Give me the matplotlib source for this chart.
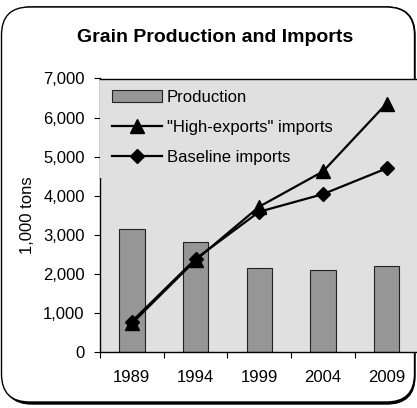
import matplotlib.pyplot as plt
from matplotlib.patches import FancyBboxPatch
from matplotlib.ticker import FuncFormatter, FixedLocator

plt.rcParams['font.family'] = ['Liberation Sans', 'DejaVu Sans']

years = ['1989', '1994', '1999', '2004', '2009']
production = [3140, 2810, 2150, 2090, 2190]
high_exports = [730, 2350, 3720, 4620, 6360]
baseline = [780, 2380, 3590, 4040, 4700]

W, H = 417, 408
fig = plt.figure(figsize=(W / 100, H / 100), dpi=100)

# Rounded chart frame with a small drop shadow (inch coordinates)
px = 1 / 100
shadow = FancyBboxPatch((4 * px, 4 * px), (W - 6) * px, (H - 11) * px,
                        boxstyle="round,pad=0,rounding_size=0.28",
                        transform=fig.dpi_scale_trans, facecolor='black',
                        edgecolor='black', lw=1, zorder=-2)
frame = FancyBboxPatch((1.5 * px, 6 * px), (W - 4) * px, (H - 13) * px,
                       boxstyle="round,pad=0,rounding_size=0.28",
                       transform=fig.dpi_scale_trans, facecolor='white',
                       edgecolor='black', lw=1, zorder=-1)
fig.patches.extend([shadow, frame])

ax = fig.add_axes([100 / W, 56 / H, 318.5 / W, 273.5 / H])
ax.set_facecolor('#e0e0e0')

x = range(len(years))
bars = ax.bar(x, production, width=0.4, color='#969696', edgecolor='#222222',
              lw=0.8, label='Production', zorder=2)
l_high, = ax.plot(x, high_exports, color='black', lw=1.6, marker='^',
                  markersize=10, label='"High-exports" imports', zorder=3)
l_base, = ax.plot(x, baseline, color='black', lw=1.6, marker='D',
                  markersize=7.5, label='Baseline imports', zorder=3)

ax.set_xlim(-0.5, 4.5)
ax.set_ylim(0, 7000)
ax.set_yticks(range(0, 7001, 1000))
ax.yaxis.set_major_formatter(FuncFormatter(lambda v, p: f'{int(v):,}'))
ax.set_xticks(list(x))
ax.set_xticklabels(years)
ax.xaxis.set_minor_locator(FixedLocator([i - 0.5 for i in range(6)]))
ax.tick_params(axis='x', which='major', length=0, pad=13, labelsize=12)
ax.tick_params(axis='x', which='minor', length=4, width=0.8, direction='out')
ax.tick_params(axis='y', length=4, width=0.8, pad=7, labelsize=12)

for s in ax.spines.values():
    s.set_linewidth(1)
    s.set_color('black')
ax.spines['top'].set_zorder(2.8)

ax.set_ylabel('1,000 tons', fontsize=12, labelpad=6)
fig.text(0.515, 0.907, 'Grain Production and Imports', ha='center',
         va='center', fontsize=14, fontweight='bold')

# legend box sits over the left spine but under the series lines
leg = ax.legend([bars, l_high, l_base],
                ['Production', '"High-exports" imports', 'Baseline imports'],
                loc='upper left', bbox_to_anchor=(-0.004, 1.0066),
                borderaxespad=0, fontsize=12, frameon=True, fancybox=False,
                handlelength=3.0, handletextpad=0.3, labelspacing=0.9,
                borderpad=0.8)
leg_frame = leg.get_frame()
leg_frame.set_facecolor('#e0e0e0')
leg_frame.set_edgecolor('none')
leg_frame.set_alpha(1)
leg_frame.set_clip_box(ax.bbox)
leg_frame.set_clip_on(True)
leg.set_zorder(2.7)

fig.savefig('out.png', dpi=100)
